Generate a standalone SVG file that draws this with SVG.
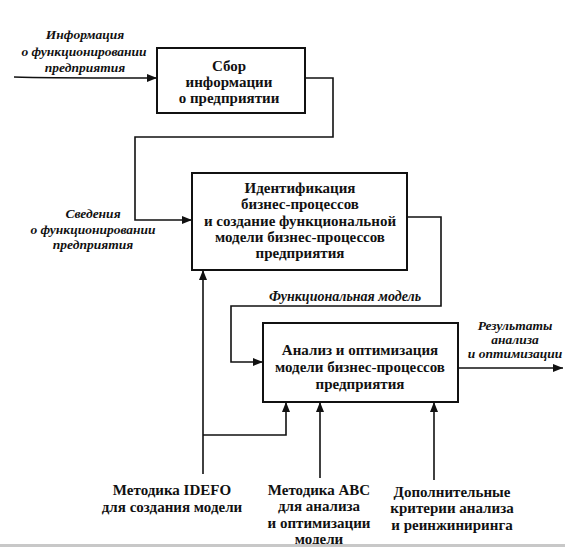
<svg xmlns="http://www.w3.org/2000/svg" width="565" height="547" viewBox="0 0 565 547">
<style>
.box{fill:#fff;stroke:#111;stroke-width:2}
.ln{fill:none;stroke:#111;stroke-width:1.6}
.t{font-family:'Liberation Serif','Times New Roman',serif;font-weight:bold;font-size:15px;fill:#111;text-anchor:middle}
.i{font-family:'Liberation Serif','Times New Roman',serif;font-weight:bold;font-style:italic;font-size:13.5px;fill:#111;text-anchor:middle}
</style>
<defs>
<marker id="ah" viewBox="0 0 10 8" refX="10" refY="4" markerWidth="10" markerHeight="8" markerUnits="userSpaceOnUse" orient="auto">
<path d="M0,0 L10,4 L0,8 Z" fill="#111"/>
</marker>
</defs>
<rect width="565" height="547" fill="#fff"/>
<g id="connectors">
<path class="ln" d="M14,77 Q40,78 157,78" marker-end="url(#ah)"/>
<path class="ln" d="M305,78 H333 V137 H135 V220 H192" marker-end="url(#ah)"/>
<path class="ln" d="M407,217 H441 V306 H231 V362 H263" marker-end="url(#ah)"/>
<path class="ln" d="M458,368 H563" marker-end="url(#ah)"/>
<path class="ln" d="M203,474 V270" marker-end="url(#ah)"/>
<path class="ln" d="M203,435 H286 V402" marker-end="url(#ah)"/>
<path class="ln" d="M320,478 V402" marker-end="url(#ah)"/>
<path class="ln" d="M434,480 V402" marker-end="url(#ah)"/>
</g>
<g id="label-in">
<text class="i" x="85" y="39">Информация</text>
<text class="i" x="84" y="56">о функционировании</text>
<text class="i" x="85" y="72">предприятия</text>
</g>
<g id="label-svedenia">
<text class="i" x="93" y="218">Сведения</text>
<text class="i" x="93" y="234">о функционировании</text>
<text class="i" x="93" y="249">предприятия</text>
</g>
<g id="label-func">
<text class="i" x="345" y="301" style="font-size:14px">Функциональная модель</text>
</g>
<g id="label-out">
<text class="i" x="515" y="330">Результаты</text>
<text class="i" x="515" y="344">анализа</text>
<text class="i" x="515" y="358">и оптимизации</text>
</g>
<g id="node-collect">
<rect class="box" x="157" y="48" width="148" height="65"/>
<text class="t" x="229" y="71">Сбор</text>
<text class="t" x="229" y="87">информации</text>
<text class="t" x="229" y="103">о предприятии</text>
</g>
<g id="node-ident">
<rect class="box" x="192" y="173" width="215" height="97"/>
<text class="t" x="300" y="193">Идентификация</text>
<text class="t" x="300" y="209">бизнес-процессов</text>
<text class="t" x="300" y="226">и создание функциональной</text>
<text class="t" x="300" y="242">модели бизнес-процессов</text>
<text class="t" x="300" y="258">предприятия</text>
</g>
<g id="node-analysis">
<rect class="box" x="263" y="323" width="195" height="79"/>
<text class="t" x="360" y="355">Анализ и оптимизация</text>
<text class="t" x="360" y="372">модели бизнес-процессов</text>
<text class="t" x="360" y="389">предприятия</text>
</g>
<g id="label-idef">
<text class="t" x="172" y="495">Методика IDEFO</text>
<text class="t" x="172" y="512">для создания модели</text>
</g>
<g id="label-abc">
<text class="t" x="319" y="495">Методика ABC</text>
<text class="t" x="319" y="511">для анализа</text>
<text class="t" x="319" y="528">и оптимизации</text>
<text class="t" x="319" y="544">модели</text>
</g>
<g id="label-extra">
<text class="t" x="452" y="497">Дополнительные</text>
<text class="t" x="452" y="513">критерии анализа</text>
<text class="t" x="452" y="530">и реинжиниринга</text>
</g>
<rect x="0" y="544" width="565" height="3" fill="#c8c8c8"/>
</svg>
